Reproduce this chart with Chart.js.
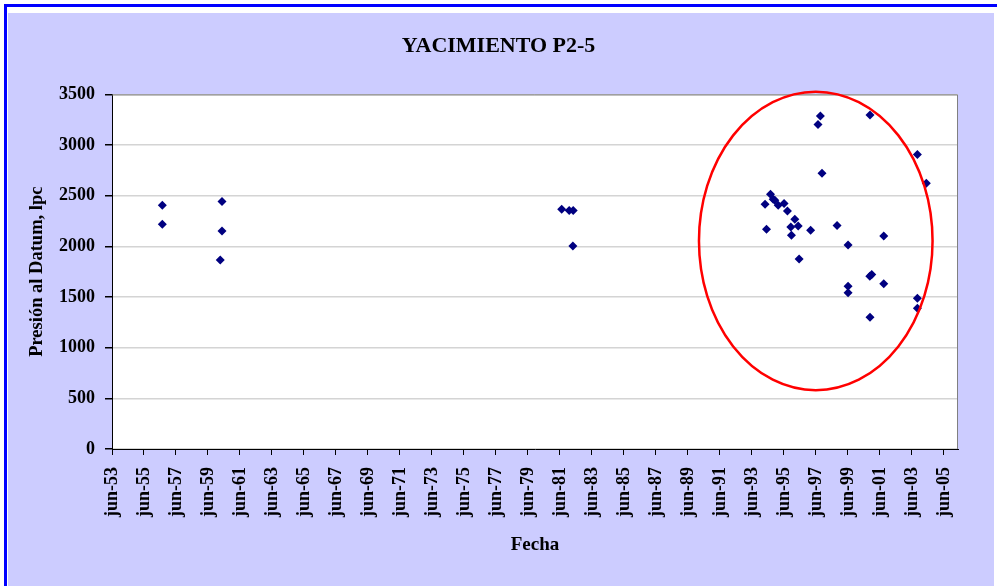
<!DOCTYPE html>
<html>
<head>
<meta charset="utf-8">
<script src="https://cdn.jsdelivr.net/npm/chart.js@4/dist/chart.umd.min.js"></script>
<style>
  html, body { margin: 0; padding: 0; background: #ffffff; width: 997px; height: 586px; overflow: hidden; }
  #frame { position: absolute; left: 4px; top: 4px; width: 1000px; height: 600px; border-left: 3px solid #0000ff; border-top: 3px solid #0000ff; }
  #bg { position: absolute; left: 8px; top: 13px; width: 986px; height: 600px; background: #ccccff; }
  #c { position: absolute; left: 0; top: 0; }
</style>
</head>
<body>
<div id="frame"></div>
<div id="bg"></div>
<canvas id="c" width="997" height="586"></canvas>
<script>
// Fecha (decimal years) and Presión al Datum (lpc)
const fechaAnio = [
  1956.56, 1956.56, 1960.29, 1960.29, 1960.18,
  1981.52, 1981.99, 1982.24, 1982.22,
  1994.57, 1994.23, 1994.84, 1994.74, 1995.05, 1995.42, 1995.63, 1996.09,
  1994.32, 1995.84, 1996.30, 1995.88, 1997.08, 1996.36,
  1997.69, 1997.54, 1997.79, 2000.79,
  1998.73, 1999.42, 2001.65, 2000.78, 2000.90, 2001.65,
  1999.42, 1999.42, 2003.75, 2004.31, 2003.75, 2003.75, 2000.79
];
const presion = [
  2405, 2218, 2442, 2152, 1866,
  2366, 2353, 2353, 2004,
  2514, 2415, 2455, 2465, 2406, 2422, 2349, 2267,
  2169, 2192, 2202, 2110, 2159, 1876,
  3286, 3204, 2721, 3296,
  2205, 2014, 2103, 1706, 1722, 1630,
  1607, 1541, 2908, 2622, 1489, 1390, 1301
];
const tickLabels = ['jun-53','jun-55','jun-57','jun-59','jun-61','jun-63','jun-65','jun-67','jun-69',
  'jun-71','jun-73','jun-75','jun-77','jun-79','jun-81','jun-83','jun-85','jun-87','jun-89',
  'jun-91','jun-93','jun-95','jun-97','jun-99','jun-01','jun-03','jun-05'];
// Highlight ellipse in data units: center (year, lpc), radii (years, lpc)
const elipse = { cx: 1997.40, cy: 2054, rx: 7.3, ry: 1473 };

function labelToYear(l) {
  const yy = parseInt(l.split('-')[1], 10);
  const y = yy > 40 ? 1900 + yy : 2000 + yy;
  return y + 151 / 365;
}
const tickValues = tickLabels.map(labelToYear);

const points = fechaAnio.map((x, i) => ({ x: x, y: presion[i] }));
const serif = "'Liberation Serif', 'Times New Roman', serif";

const plotBg = {
  id: 'plotBg',
  beforeDraw(chart) {
    const { ctx, chartArea: a } = chart;
    ctx.save();
    ctx.fillStyle = '#ffffff';
    ctx.fillRect(a.left, a.top, a.right - a.left, a.bottom - a.top);
    ctx.restore();
  },
  afterDraw(chart) {
    const { ctx, chartArea: a, scales } = chart;
    ctx.save();
    ctx.strokeStyle = '#808080';
    ctx.lineWidth = 1;
    ctx.beginPath();
    ctx.moveTo(a.left, a.top + 0.5);
    ctx.lineTo(a.right - 0.5, a.top + 0.5);
    ctx.lineTo(a.right - 0.5, a.bottom);
    ctx.stroke();
    // ellipse
    const xs = scales.x, ys = scales.y;
    const cx = xs.getPixelForValue(elipse.cx);
    const cy = ys.getPixelForValue(elipse.cy);
    const rx = Math.abs(xs.getPixelForValue(elipse.cx + elipse.rx) - cx);
    const ry = Math.abs(ys.getPixelForValue(elipse.cy + elipse.ry) - cy);
    ctx.strokeStyle = '#ff0000';
    ctx.lineWidth = 2.5;
    ctx.beginPath();
    ctx.ellipse(cx, cy, rx, ry, 0, 0, Math.PI * 2);
    ctx.stroke();
    ctx.restore();
  }
};

new Chart(document.getElementById('c'), {
  type: 'scatter',
  data: {
    datasets: [{
      data: points,
      pointStyle: 'rectRot',
      pointRadius: 4.5,
      pointHoverRadius: 4.5,
      backgroundColor: '#000080',
      borderColor: '#000080',
      borderWidth: 0
    }]
  },
  options: {
    responsive: false,
    animation: false,
    devicePixelRatio: 1,
    layout: { padding: { left: 0, right: 0, top: 0, bottom: 0 } },
    plugins: {
      legend: { display: false },
      tooltip: { enabled: false },
      title: {
        display: true,
        text: 'YACIMIENTO P2-5',
        color: '#000000',
        font: { family: serif, size: 22, weight: 'bold' },
        padding: { top: 33, bottom: 35 }
      }
    },
    scales: {
      x: {
        type: 'linear',
        min: tickValues[0],
        max: 2006.29,
        afterBuildTicks(scale) { scale.ticks = tickValues.map(v => ({ value: v })); },
        afterFit(scale) { scale.height = 137; },
        grid: { display: true, drawOnChartArea: false, drawTicks: true, tickLength: 6, tickColor: '#000000' },
        border: { display: true, color: '#000000', width: 1 },
        ticks: {
          autoSkip: false,
          maxRotation: 90,
          minRotation: 90,
          padding: 12,
          color: '#000000',
          font: { family: serif, size: 18, weight: 'bold' },
          callback(value, index) { return tickLabels[index]; }
        },
        title: {
          display: true,
          text: 'Fecha',
          color: '#000000',
          font: { family: serif, size: 19, weight: 'bold' },
          padding: { top: 0, bottom: 30 }
        }
      },
      y: {
        min: 0,
        max: 3500,
        afterFit(scale) { scale.width = 112; },
        grid: { color: '#d4d4d4', lineWidth: 1.5, drawTicks: true, tickLength: 7, tickColor: '#000000' },
        border: { display: true, color: '#000000', width: 1 },
        ticks: {
          stepSize: 500,
          padding: 10,
          color: '#000000',
          font: { family: serif, size: 18, weight: 'bold' },
          callback(value) { return String(value); }
        },
        title: {
          display: true,
          text: 'Presión al Datum, lpc',
          color: '#000000',
          font: { family: serif, size: 18.5, weight: 'bold' },
          padding: { top: 26, bottom: 0 }
        }
      },
      ySpacer: {
        type: 'linear',
        position: 'right',
        display: true,
        afterFit(scale) { scale.width = 39; },
        grid: { display: false, drawTicks: false },
        border: { display: false },
        ticks: { display: false }
      }
    }
  },
  plugins: [plotBg]
});
</script>
</body>
</html>
